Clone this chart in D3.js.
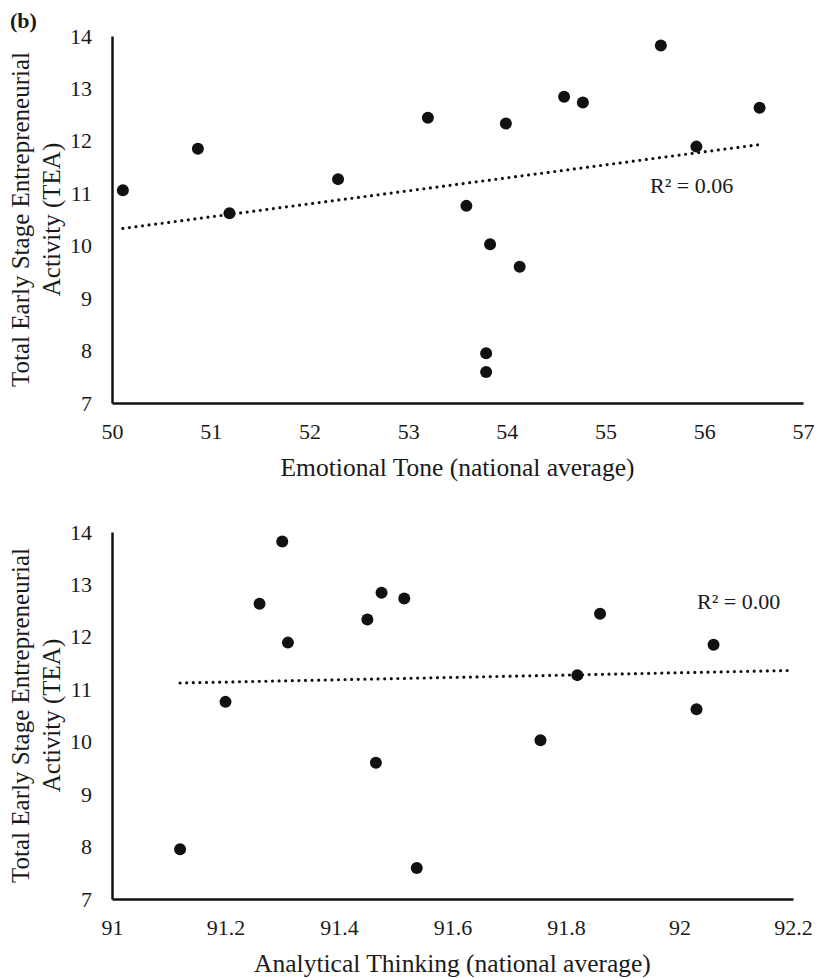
<!DOCTYPE html>
<html>
<head>
<meta charset="utf-8">
<script src="https://cdn.jsdelivr.net/npm/d3@7"></script>
<style>
  body{margin:0;background:#fff;}
  text{font-family:"Liberation Serif","Times New Roman",serif;fill:#1a1a1a;}
</style>
</head>
<body>
<script>
// top panel: emotional tone vs TEA
let toneX=[50.11,50.87,51.19,52.29,53.20,53.59,53.79,53.79,53.83,53.99,54.13,54.58,54.77,55.56,55.92,56.56];
let toneY=[11.06,11.85,10.62,11.27,12.44,10.76,7.95,7.59,10.03,12.33,9.60,12.84,12.73,13.82,11.89,12.63];
let toneTrend=[[50.11,10.33],[56.56,11.93]];
let toneTicks=[50,51,52,53,54,55,56,57];

// bottom panel: analytical thinking vs TEA
let analX=[91.12,91.20,91.26,91.30,91.31,91.45,91.475,91.465,91.515,91.537,91.755,91.82,91.86,92.03,92.06];
let analY=[7.95,10.76,12.63,13.82,11.89,12.33,12.84,9.60,12.73,7.59,10.03,11.27,12.44,10.62,11.85];
let analTrend=[[91.12,11.12],[92.2,11.36]];
let analTicks=[91,91.2,91.4,91.6,91.8,92,92.2];

let teaTicks=[7,8,9,10,11,12,13,14];

let svg=d3.select("body").append("svg").attr("width",816).attr("height",978);

svg.append("text").attr("x",10).attr("y",28)
    .style("font-size","22px").style("font-weight","bold").text("(b)");

function panel(cfg){
    let x=d3.scaleLinear().domain(cfg.xDomain).range([112,cfg.xRight]);
    let y=d3.scaleLinear().domain([7,14]).range([cfg.top+367,cfg.top]);
    let g=svg.append("g");

    let ya=g.append("g").attr("transform","translate(112,0)")
        .call(d3.axisLeft(y).tickValues(teaTicks).tickSize(0).tickPadding(20).tickFormat(d3.format("d")));
    let xa=g.append("g").attr("transform","translate(0,"+(cfg.top+367)+")")
        .call(d3.axisBottom(x).tickValues(cfg.ticks).tickSize(0).tickPadding(20).tickFormat(d3.format("~g")));
    [ya,xa].forEach(a=>{
        a.select(".domain").attr("stroke","#111").attr("stroke-width",2.5);
        a.selectAll("text").style("font-size","22px").attr("fill","#1a1a1a");
    });

    // trendline, dotted
    g.append("path")
        .attr("d",d3.line().x(d=>x(d[0])).y(d=>y(d[1]))(cfg.trend))
        .attr("fill","none").attr("stroke","#111").attr("stroke-width",3.2)
        .attr("stroke-linecap","round").attr("stroke-dasharray","0 6.6");

    g.selectAll("circle").data(cfg.xs).enter().append("circle")
        .attr("cx",d=>x(d)).attr("cy",(d,i)=>y(cfg.ys[i]))
        .attr("r",6).attr("fill","#111");

    g.append("text").attr("x",cfg.r2[0]).attr("y",cfg.r2[1])
        .style("font-size","22px").text(cfg.r2[2]);

    g.append("text").attr("x",(112+cfg.xRight)/2).attr("y",cfg.top+440)
        .attr("text-anchor","middle").style("font-size","25.5px").text(cfg.xTitle);

    let cy=cfg.top+183.5;
    let yt=g.append("text").attr("transform","translate(29,"+cy+") rotate(-90)")
        .attr("text-anchor","middle").style("font-size","25px");
    yt.append("tspan").attr("x",0).attr("y",0).text("Total Early Stage Entrepreneurial");
    yt.append("tspan").attr("x",0).attr("y",31).text("Activity (TEA)");
}

panel({top:36,xDomain:[50,57],xRight:803,ticks:toneTicks,xs:toneX,ys:toneY,trend:toneTrend,
    r2:[650,193,"R² = 0.06"],xTitle:"Emotional Tone (national average)"});
panel({top:532,xDomain:[91,92.2],xRight:793,ticks:analTicks,xs:analX,ys:analY,trend:analTrend,
    r2:[697,609,"R² = 0.00"],xTitle:"Analytical Thinking (national average)"});
</script>
</body>
</html>
